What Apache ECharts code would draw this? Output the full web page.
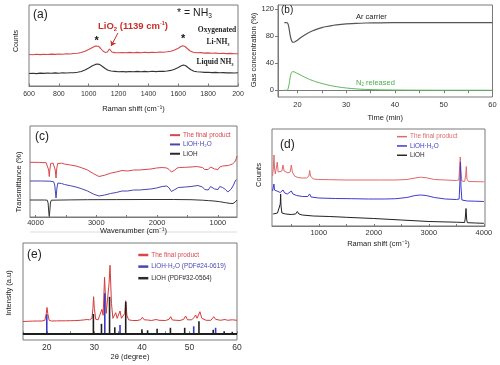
<!DOCTYPE html>
<html><head><meta charset="utf-8">
<script src="https://cdn.jsdelivr.net/npm/echarts@6/dist/echarts.min.js"></script>
<style>html,body{margin:0;padding:0;background:#fff}#c{width:500px;height:365px}</style>
</head><body><div id="c"></div>
<script>
// ---------- (a) Raman, counts vs Raman shift ----------
const ramanA_ticks = [600, 800, 1000, 1200, 1400, 1600, 1800, 2000];
const ramanA_oxygenated = [[600,31.5],[625,31.2],[650,31.7],[675,31.4],[700,31.8],[725,31.5],[750,31.9],[775,31.6],[800,32],[825,31.8],[850,32.2],[875,32],[900,32.5],[925,32.8],[950,33.5],[975,34.8],[1000,36.5],[1025,38.5],[1045,40],[1055,40.3],[1065,39.8],[1080,37.5],[1095,35],[1110,33.6],[1125,34],[1133,36],[1139,37],[1145,35.5],[1155,34],[1175,33.4],[1200,33.2],[1225,33.5],[1250,33.2],[1275,33.6],[1300,33.3],[1325,33.6],[1350,33.3],[1375,33.7],[1400,33.4],[1425,33.8],[1450,33.5],[1475,34],[1500,33.7],[1525,34.2],[1550,34.8],[1575,36],[1600,37.8],[1615,39.3],[1630,40.3],[1645,39.5],[1660,37.5],[1680,35],[1700,33.8],[1725,33.2],[1750,33.4],[1775,32.9],[1800,33.1],[1825,32.7],[1850,32.9],[1875,32.5],[1900,32.7],[1925,32.4],[1950,32.6],[1975,32.2],[2000,32.3]];
const ramanA_liquid = [[600,12.5],[625,12.8],[650,12.4],[675,12.9],[700,12.6],[725,13],[750,12.7],[775,13.1],[800,12.8],[825,13.2],[850,13],[875,13.3],[900,13.3],[925,13.8],[950,14.5],[975,16],[1000,18],[1025,20.3],[1045,21.6],[1060,22],[1075,21.4],[1090,19.8],[1110,17.5],[1130,15.8],[1150,15],[1175,14.6],[1200,14.2],[1225,14.5],[1250,14.1],[1275,14.5],[1300,14.2],[1325,14.6],[1350,14.2],[1375,14.6],[1400,14.3],[1425,14.7],[1450,14.4],[1475,14.8],[1500,14.6],[1525,15],[1550,15.6],[1575,16.8],[1600,18.6],[1620,20.3],[1635,21],[1650,20.3],[1665,18.5],[1685,16.2],[1705,14.8],[1725,14.2],[1750,14],[1775,13.6],[1800,13.8],[1825,13.4],[1850,13.6],[1875,13.2],[1900,13.4],[1925,13.1],[1950,13.3],[1975,13],[2000,13.2]];
const ramanA_stars = [[1053,45.3],[1632,46.7]];
const ramanA_arrow = [[1196,53],[1150,40]];

// ---------- (b) Gas concentration vs time ----------
const gasB_xLabels = [20, 30, 40, 50, 60];
const gasB_xTicks = [20, 25, 30, 35, 40, 45, 50, 55, 60];
const gasB_yLabels = [0, 40, 80, 120];
const gasB_ar = [[17.3,100],[17.6,100],[17.9,99.8],[18.1,97],[18.3,90],[18.5,81],[18.7,75],[18.9,71.8],[19.1,70.9],[19.4,71.3],[19.8,73],[20.3,75.8],[21,79.5],[22,84],[23,87.5],[24,90.3],[25,92.5],[26,94.2],[27,95.6],[28,96.6],[29,97.4],[30,98],[32,98.9],[34,99.4],[37,99.7],[42,99.9],[50,100],[60,100]];
const gasB_n2 = [[17.3,0],[17.6,0],[17.9,0.2],[18.1,3],[18.3,10],[18.5,19],[18.7,25],[18.9,27.2],[19.1,27.5],[19.4,27],[19.8,25.5],[20.3,23.8],[21,21],[22,17.5],[23,14.5],[24,12],[25,10],[26,8.2],[27,6.6],[28,5.3],[29,4.2],[30,3.3],[32,2],[34,1.2],[37,0.6],[42,0.2],[50,0],[60,0]];

// ---------- (c) FTIR transmittance vs wavenumber ----------
const ftirC_labels = [1000, 2000, 3000, 4000];
const ftirC_ticks = [1000, 1500, 2000, 2500, 3000, 3500, 4000];
const ftirC_final = [[4090,54.7],[3948,54.6],[3825,54.3],[3797,53],[3783,47],[3773,40.5],[3764,47],[3750,53.5],[3712,54],[3688,52.5],[3674,47],[3662,39],[3651,48],[3636,53.5],[3570,53.8],[3523,53],[3428,52],[3333,51],[3239,49.2],[3144,47],[3050,43.5],[2955,40.5],[2860,41.8],[2766,43.8],[2671,45],[2577,46.5],[2482,46],[2388,47],[2293,47],[2198,47.5],[2104,48],[2009,49],[1915,49.5],[1839,49],[1801,47.5],[1763,45],[1735,45.5],[1707,47],[1669,49],[1631,49.5],[1536,49.7],[1442,50],[1347,50.5],[1253,49.5],[1215,47.5],[1186,46],[1158,47.5],[1120,50],[1092,50.5],[1054,48],[1026,46.5],[997,47.5],[969,50],[922,51],[827,51.5],[761,53],[723,55],[699,58],[685,61]];
const ftirC_hydrate = [[4090,36],[3901,36],[3759,35.8],[3702,35.3],[3683,32],[3662,19],[3645,30],[3631,34],[3570,33.5],[3523,32.5],[3428,31.3],[3333,30],[3239,28.2],[3144,26],[3050,23],[2955,21],[2860,22],[2766,23.5],[2671,24.5],[2577,26],[2482,26],[2388,27],[2293,27],[2198,27.5],[2104,28],[2009,29],[1915,30.5],[1839,31],[1801,29],[1763,25.5],[1735,25.5],[1707,27.5],[1650,29.5],[1536,30],[1442,30.5],[1328,31.5],[1253,30],[1215,27.5],[1186,25.5],[1158,27],[1120,30.5],[1092,31.5],[1054,28],[1026,26],[997,27.5],[969,30.5],[922,29.5],[874,27.5],[836,25],[808,25],[780,28],[742,32],[714,36],[694,37.5],[685,36]];
const ftirC_lioh = [[4090,17],[3854,17],[3806,16.8],[3792,14],[3780,4],[3773,0.5],[3767,4],[3754,14],[3740,16.8],[3712,17],[3428,17.1],[3144,17.3],[2671,17.4],[2198,17.5],[1726,17.5],[1442,17.3],[1253,16.8],[1158,16.4],[1063,16],[969,15.3],[874,14.3],[799,13.6],[751,13.5],[714,15],[685,17]];

// ---------- (d) Raman counts vs Raman shift ----------
const ramanD_labels = [1000, 2000, 3000, 4000];
const ramanD_ticks = [500, 1000, 1500, 2000, 2500, 3000, 3500, 4000];
const ramanD_final = [[160,50],[175,58],[186,71],[196,58],[210,52],[230,53],[246,64],[262,54],[290,53],[330,55],[350,61],[370,55],[400,53.5],[440,53],[480,54],[501,61],[520,54],[560,50],[620,48.5],[700,48],[780,48],[820,50],[835,55.5],[850,50],[900,47],[1000,46.5],[1200,46.3],[1500,46],[1800,46],[2100,46],[2400,46],[2600,46.5],[2750,48],[2850,48.8],[2950,48.3],[3100,46.5],[3300,46],[3500,45.5],[3545,46],[3560,60],[3571,69],[3582,55],[3600,45],[3650,44.5],[3668,50],[3680,59.5],[3692,47],[3720,44.5],[3900,44.3],[4000,44.2]];
const ramanD_hydrate = [[160,35],[175,37],[185,42],[195,36],[220,34],[260,34.5],[300,33.5],[350,36],[380,33],[430,32],[501,35],[530,32],[600,30.5],[700,29.5],[800,29.5],[835,32],[860,29],[1000,28],[1300,27.5],[1600,27.3],[1900,27],[2200,27],[2400,27.3],[2600,28.5],[2750,30.5],[2850,31],[2950,30.5],[3100,28.5],[3300,27],[3500,26.5],[3550,27],[3565,45],[3574,64],[3583,40],[3600,26],[3700,25],[3850,24.8],[4000,24.5]];
const ramanD_lioh = [[170,12],[250,13],[285,14],[300,22],[307,32],[314,20],[330,13],[400,12],[500,11.5],[580,12],[610,14.5],[622,14.5],[640,12],[700,11],[900,10],[1200,9.5],[1500,8.7],[2000,7.5],[2500,6],[3000,4.5],[3500,3.8],[3650,3.5],[3662,8],[3675,17.5],[3688,6],[3700,3.3],[3850,3],[4000,2.7]];

// ---------- (e) XRD intensity vs 2 theta ----------
const xrdE_labels = [20, 30, 40, 50, 60];
const xrdE_ticks = [15, 20, 25, 30, 35, 40, 45, 50, 55, 60];
const xrdE_final = [[15,11.8],[16,12],[17,12.2],[18,12.3],[19,12.3],[19.6,13],[19.9,20],[20.05,25.8],[20.2,20],[20.5,13],[21,12.3],[22,12.4],[23,12.5],[24,12.5],[25,12.6],[25.4,13.5],[25.8,12.7],[27,13],[28,13.5],[28.5,13.8],[29,13.5],[29.5,15],[29.7,25],[29.85,36.6],[30,25],[30.3,14],[30.8,13.5],[31.2,15],[31.6,24],[31.85,18],[32.15,56],[32.5,20],[32.8,20],[33.1,50],[33.3,68],[33.6,30],[33.9,15],[34.2,16],[34.5,20.6],[34.8,15],[35.1,16],[35.4,22.3],[35.7,15],[36.1,14],[36.4,20],[36.6,32.6],[36.85,18],[37.2,13.5],[38,12.8],[39,12.8],[39.7,13.5],[40.1,16],[40.5,13.5],[41.2,13.3],[42,12.8],[43,13.8],[43.25,15],[43.6,13],[45,12.8],[45.7,14],[46.05,16.6],[46.4,13.3],[48,12.8],[48.8,14],[49.2,17.3],[49.6,13.5],[50.5,13.5],[51,16],[51.3,18.3],[51.6,15],[52.2,21.6],[52.6,15],[53.5,13],[54.5,13],[55.1,16.6],[55.5,14],[56.5,13],[57.5,13.8],[58,13],[59,13.5],[60,13]];
const xrdE_hydrateRef = [[20.0,19],[32.2,40],[35.4,8.3],[50.9,7],[55.5,5.5]];
const xrdE_liohRef = [[29.8,19.3],[31.5,9.5],[33.2,36.5],[34.3,6],[36.6,31.3],[40.0,4],[41.2,3],[43.2,4.5],[46.0,5.5],[49.0,5.5],[52.0,12],[55.0,3.5],[57.3,2],[59.0,1.5]];

// ---------- styling / layout ----------
const F = 'Liberation Sans';
const SERIF = 'Liberation Serif';
const RED = '#d9474d', BLUE = '#4646b4', DARK = '#2a2a2a';
const BOX = '#7a7a7a';
const plain = function (v) { return String(v); };

function grid(l, t, w, h) {
  return { left: l, top: t, width: w, height: h, show: true, borderColor: BOX, borderWidth: 1, backgroundColor: 'transparent' };
}
function xAxisOf(i, o) {
  return Object.assign({
    gridIndex: i, type: 'value', splitLine: { show: false },
    axisLine: { show: true, lineStyle: { color: BOX, width: 1 } },
    axisTick: { show: true, inside: true, length: 2.5, lineStyle: { color: BOX } },
    axisLabel: { fontSize: 7.5, color: '#333', fontFamily: F, margin: 3, formatter: plain },
    nameLocation: 'middle', nameTextStyle: { fontSize: 7.5, color: '#222', fontFamily: F }
  }, o);
}
function yHidden(i, mn, mx) {
  return { gridIndex: i, type: 'value', min: mn, max: mx, axisLine: { show: false }, axisTick: { show: false }, axisLabel: { show: false }, splitLine: { show: false } };
}
function lineSeries(name, xi, data, color, width) {
  return { name: name, type: 'line', xAxisIndex: xi, yAxisIndex: xi, data: data, showSymbol: false, symbol: 'none', lineStyle: { color: color, width: width || 1 }, itemStyle: { color: color }, animation: false, z: 2 };
}
function legendOf(left, top, rowH, iconH, items) {
  return {
    left: left, top: top, orient: 'vertical', padding: 0, itemGap: 0, itemWidth: 10, itemHeight: iconH, icon: 'rect', selectedMode: false,
    textStyle: { fontSize: 6.4, fontFamily: F, lineHeight: rowH, padding: [0, 0, 0, -2] },
    data: items.map(function (it) { return { name: it[0], itemStyle: { color: it[1] }, textStyle: { color: it[1] } }; })
  };
}
function richStyles(size, family, weight, color) {
  const lh = Math.round(size * 1.3);
  return {
    m: { fontSize: size, fontFamily: family, fontWeight: weight, color: color, lineHeight: lh },
    sb: { fontSize: size * 0.62, fontFamily: family, fontWeight: weight, color: color, lineHeight: size * 0.5, verticalAlign: 'bottom' },
    sp: { fontSize: size * 0.58, fontFamily: family, fontWeight: weight, color: color, lineHeight: size * 0.5, verticalAlign: 'top' }
  };
}
function txt(x, y, text, size, o) {
  o = o || {};
  const family = o.family || F, weight = o.weight || 'normal', color = o.color || '#222', align = o.align || 'left';
  return { type: 'text', x: x, y: y, silent: true, rotation: o.rot || 0,
    style: { text: text, fontSize: size, fontFamily: family, fontWeight: weight, fill: color,
      textAlign: align, align: align, textVerticalAlign: 'middle', verticalAlign: 'middle',
      rich: richStyles(size, family, weight, color) } };
}
function vtxt(x, y, text, size) {
  return txt(x, y, text, size, { rot: Math.PI / 2, align: 'center' });
}

const NAME_FINAL = 'The final product';
const NAME_HYD = 'LiOH·H₂O';
const NAME_LIOH = 'LiOH';
const NAME_HYD_REF = 'LiOH·H₂O (PDF#24-0619)';
const NAME_LIOH_REF = 'LiOH (PDF#32-0564)';

const option = {
  animation: false,
  backgroundColor: '#fff',
  grid: [grid(29, 5, 209, 81), grid(278, 5, 214.5, 92), grid(30, 126, 207, 91), grid(272, 129, 213, 97), grid(23, 243, 214, 97)],
  xAxis: [
    xAxisOf(0, { min: 600, max: 2000, interval: 200, name: 'Raman shift (cm⁻¹)', nameGap: 19,
      axisLabel: { fontSize: 7, color: '#333', fontFamily: F, margin: 5, formatter: function (v) { return v === 2000 ? '200' : String(v); } } }),
    xAxisOf(1, { min: 16, max: 60, name: 'Time (min)', nameGap: 17,
      axisTick: { show: true, inside: false, length: 3, lineStyle: { color: BOX }, customValues: gasB_xTicks },
      axisLabel: { fontSize: 7.5, color: '#333', fontFamily: F, margin: 4, formatter: plain, customValues: gasB_xLabels } }),
    xAxisOf(2, { min: 685, max: 4090, inverse: true, name: 'Wavenumber (cm⁻¹)', nameGap: 9,
      axisTick: { show: true, inside: true, length: 2, lineStyle: { color: BOX }, customValues: ftirC_ticks },
      axisLabel: { fontSize: 7.5, color: '#333', fontFamily: F, margin: 1.5, formatter: plain, customValues: ftirC_labels } }),
    xAxisOf(3, { min: 150, max: 4020, name: 'Raman shift (cm⁻¹)', nameGap: 14,
      axisTick: { show: true, inside: true, length: 2, lineStyle: { color: BOX }, customValues: ramanD_ticks },
      axisLabel: { fontSize: 7.5, color: '#333', fontFamily: F, margin: 2.5, formatter: plain, customValues: ramanD_labels } }),
    xAxisOf(4, { min: 15, max: 60, name: '2θ (degree)', nameGap: 12.5,
      axisTick: { show: true, inside: true, length: 2, lineStyle: { color: BOX }, customValues: xrdE_ticks },
      axisLabel: { fontSize: 8.5, color: '#333', fontFamily: F, margin: 3, formatter: plain, customValues: xrdE_labels } })
  ],
  yAxis: [
    yHidden(0, 0, 81),
    { gridIndex: 1, type: 'value', min: -10, max: 126, splitLine: { show: false },
      axisLine: { show: true, lineStyle: { color: BOX } },
      axisTick: { show: true, inside: false, length: 3, lineStyle: { color: BOX }, customValues: gasB_yLabels },
      axisLabel: { fontSize: 7.5, color: '#333', fontFamily: F, margin: 4, formatter: plain, customValues: gasB_yLabels } },
    yHidden(2, 0, 91),
    yHidden(3, 0, 97),
    yHidden(4, -6.7, 90.3)
  ],
  legend: [
    legendOf(170, 130.5, 9.3, 2, [[NAME_FINAL, RED], [NAME_HYD, BLUE], [NAME_LIOH, DARK]]),
    legendOf(397, 132, 9.3, 1.5, [[NAME_FINAL, '#e06a6a'], [NAME_HYD, '#3c3cd0'], [NAME_LIOH, DARK]]),
    legendOf(138.3, 249.2, 11.6, 2.5, [[NAME_FINAL, RED], [NAME_HYD_REF, BLUE], [NAME_LIOH_REF, DARK]])
  ],
  series: [
    Object.assign(lineSeries('Oxygenated Li-NH₃', 0, ramanA_oxygenated, '#d6474b', 1.1), {
      markPoint: { silent: true, symbol: 'circle', symbolSize: 0, animation: false,
        label: { show: true, position: 'inside', formatter: '*', fontSize: 11, fontWeight: 'bold', color: '#111', fontFamily: F },
        data: ramanA_stars.map(function (p) { return { coord: p }; }) },
      markLine: { silent: true, animation: false, symbol: ['none', 'arrow'], symbolSize: 5,
        lineStyle: { color: '#c9302c', width: 1, type: 'solid' }, label: { show: false },
        data: [[{ coord: ramanA_arrow[0] }, { coord: ramanA_arrow[1] }]] }
    }),
    lineSeries('Liquid NH₃', 0, ramanA_liquid, '#333', 1.1),
    Object.assign(lineSeries('Ar carrier', 1, gasB_ar, '#555', 1.2), { smooth: 0.3 }),
    Object.assign(lineSeries('N₂ released', 1, gasB_n2, '#5cb85c', 1), { smooth: 0.3 }),
    lineSeries(NAME_FINAL, 2, ftirC_final, RED, 1),
    lineSeries(NAME_HYD, 2, ftirC_hydrate, BLUE, 1),
    lineSeries(NAME_LIOH, 2, ftirC_lioh, '#333', 1),
    lineSeries(NAME_FINAL, 3, ramanD_final, '#e06a6a', 1),
    lineSeries(NAME_HYD, 3, ramanD_hydrate, '#3c3cd0', 1),
    lineSeries(NAME_LIOH, 3, ramanD_lioh, '#222', 1),
    lineSeries(NAME_FINAL, 4, xrdE_final, '#d63a3a', 1),
    { name: NAME_HYD_REF, type: 'bar', xAxisIndex: 4, yAxisIndex: 4, data: xrdE_hydrateRef, barWidth: 1.6, barGap: '-100%',
      itemStyle: { color: '#3a3ac4' }, z: 4, animation: false },
    { name: NAME_LIOH_REF, type: 'bar', xAxisIndex: 4, yAxisIndex: 4, data: xrdE_liohRef, barWidth: 1.6, barGap: '-100%',
      itemStyle: { color: '#1e1e1e' }, z: 3, animation: false,
      markLine: { silent: true, animation: false, symbol: 'none', label: { show: false },
        lineStyle: { color: '#1e1e1e', width: 2, type: 'solid' }, data: [{ yAxis: 0 }] } }
  ],
  graphic: [
    txt(33, 15, '(a)', 12),
    txt(177, 13, '{m|* = NH}{sb|3}', 10.5),
    txt(98, 26, '{m|LiO}{sb|2}{m| (1139 cm}{sp|-1}{m|)}', 9.5, { weight: 'bold', color: '#c9302c' }),
    txt(217, 30, '{m|Oxygenated}', 7.5, { family: SERIF, weight: 'bold', align: 'center' }),
    txt(218, 42, '{m|Li-NH}{sb|3}', 7.5, { family: SERIF, weight: 'bold', align: 'center' }),
    txt(215, 62, '{m|Liquid NH}{sb|3}', 7.5, { family: SERIF, weight: 'bold', align: 'center' }),
    vtxt(16, 41, 'Counts', 7),
    txt(281, 10, '(b)', 10),
    txt(356, 16.7, 'Ar carrier', 7.5),
    txt(356, 82.7, '{m|N}{sb|2}{m| released}', 7.5, { color: '#4cae4c' }),
    vtxt(253.5, 50, 'Gas concentration (%)', 7.5),
    txt(35, 136.7, '(c)', 12),
    vtxt(18.5, 182, 'Transmittance (%)', 7.5),
    txt(280, 145, '(d)', 12),
    vtxt(258.5, 175, 'Counts', 7.5),
    txt(27, 255, '(e)', 12),
    vtxt(8.5, 293, 'Intensity (a.u)', 7.5),
    { type: 'line', silent: true, shape: { x1: 30, y1: 232, x2: 237, y2: 232 }, style: { stroke: '#dddddd', lineWidth: 1 } }
  ]
};

const chart = echarts.init(document.getElementById('c'), null, { renderer: 'canvas', width: 500, height: 365 });
chart.setOption(option);
</script></body></html>
